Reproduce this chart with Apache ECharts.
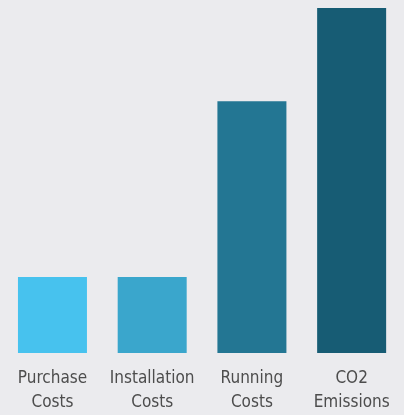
<!DOCTYPE html>
<html>
<head>
<meta charset="utf-8">
<script src="https://cdn.jsdelivr.net/npm/echarts@6/dist/echarts.min.js"></script>
<style>
html,body{margin:0;padding:0;background:#ebebee;}
#chart{width:404px;height:415px;}
</style>
</head>
<body>
<div id="chart"></div>
<script>
var categories = ['Purchase\nCosts', 'Installation\nCosts', 'Running\nCosts', 'CO2\nEmissions'];
var values = [22, 22, 73, 100];
var barColors = ['#47c2ee', '#3aa6cc', '#237693', '#175c74'];

var chart = echarts.init(document.getElementById('chart'));
chart.setOption({
  backgroundColor: '#ebebee',
  animation: false,
  grid: { left: 2.6, right: 2.5, top: 8, bottom: 60, containLabel: false },
  xAxis: {
    type: 'category',
    data: categories,
    axisLine: { show: false },
    axisTick: { show: false },
    axisLabel: {
      margin: 13,
      fontFamily: '"DejaVu Sans Condensed", "DejaVu Sans", sans-serif',
      fontSize: 17,
      lineHeight: 24.5,
      color: '#4d4d4d',
      interval: 0
    }
  },
  yAxis: {
    type: 'value',
    min: 0,
    max: 100,
    show: false,
    splitLine: { show: false }
  },
  series: [{
    type: 'bar',
    barWidth: 69,
    data: values.map(function (v, i) {
      return { value: v, itemStyle: { color: barColors[i] } };
    })
  }]
});
</script>
</body>
</html>
